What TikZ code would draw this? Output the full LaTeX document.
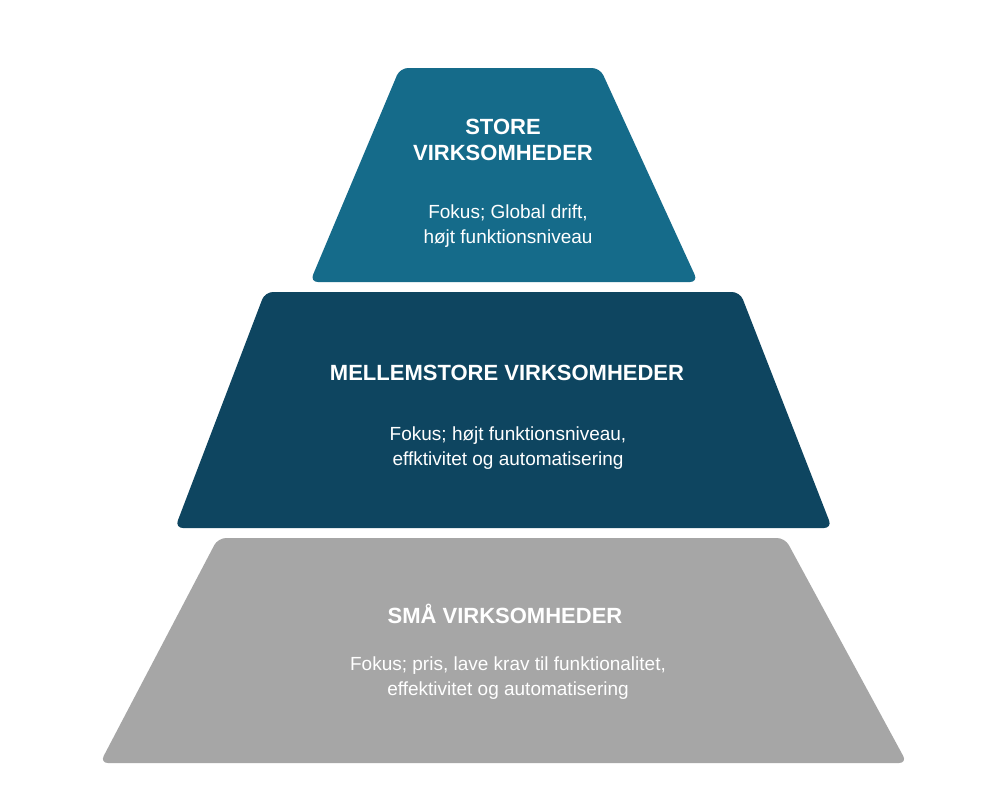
\documentclass[tikz,border=0pt]{standalone}
\usepackage{fontspec}
\setmainfont{Liberation Sans}
\definecolor{topc}{HTML}{156B8A}
\definecolor{midc}{HTML}{0E4560}
\definecolor{botc}{HTML}{A6A6A6}
\begin{document}
\begin{tikzpicture}[x=1pt,y=-1pt,
  tier/.style={rounded corners=8pt},
  ttl/.style={text=white,font=\bfseries\fontsize{22}{26}\selectfont,align=center},
  txt/.style={text=white,font=\fontsize{19}{25}\selectfont,align=center}]
\fill[white] (0,0) rectangle (1000,801);
\useasboundingbox (0,0) rectangle (1000,801);
\fill[topc,tier] (400,68) -- (600,68) -- (698,282) -- (310,282) -- cycle;
\fill[midc,tier] (265,292) -- (740,292) -- (832,528) -- (175,528) -- cycle;
\fill[botc,tier] (218,538) -- (785,538) -- (907,763) -- (100,763) -- cycle;
\node[ttl] (t1) at (503,140) {STORE\\VIRKSOMHEDER};
\node[txt] (d1) at (508,226) {Fokus; Global drift,\\ højt funktionsniveau};
\node[ttl] (t2) at (507,373) {MELLEMSTORE VIRKSOMHEDER};
\node[txt] (d2) at (508,448) {Fokus; højt funktionsniveau,\\effktivitet og automatisering};
\node[ttl] (t3) at (505,614) {SMÅ VIRKSOMHEDER};
\node[txt] (d3) at (508,678) {Fokus; pris, lave krav til funktionalitet,\\effektivitet og automatisering};
\end{tikzpicture}
\end{document}
